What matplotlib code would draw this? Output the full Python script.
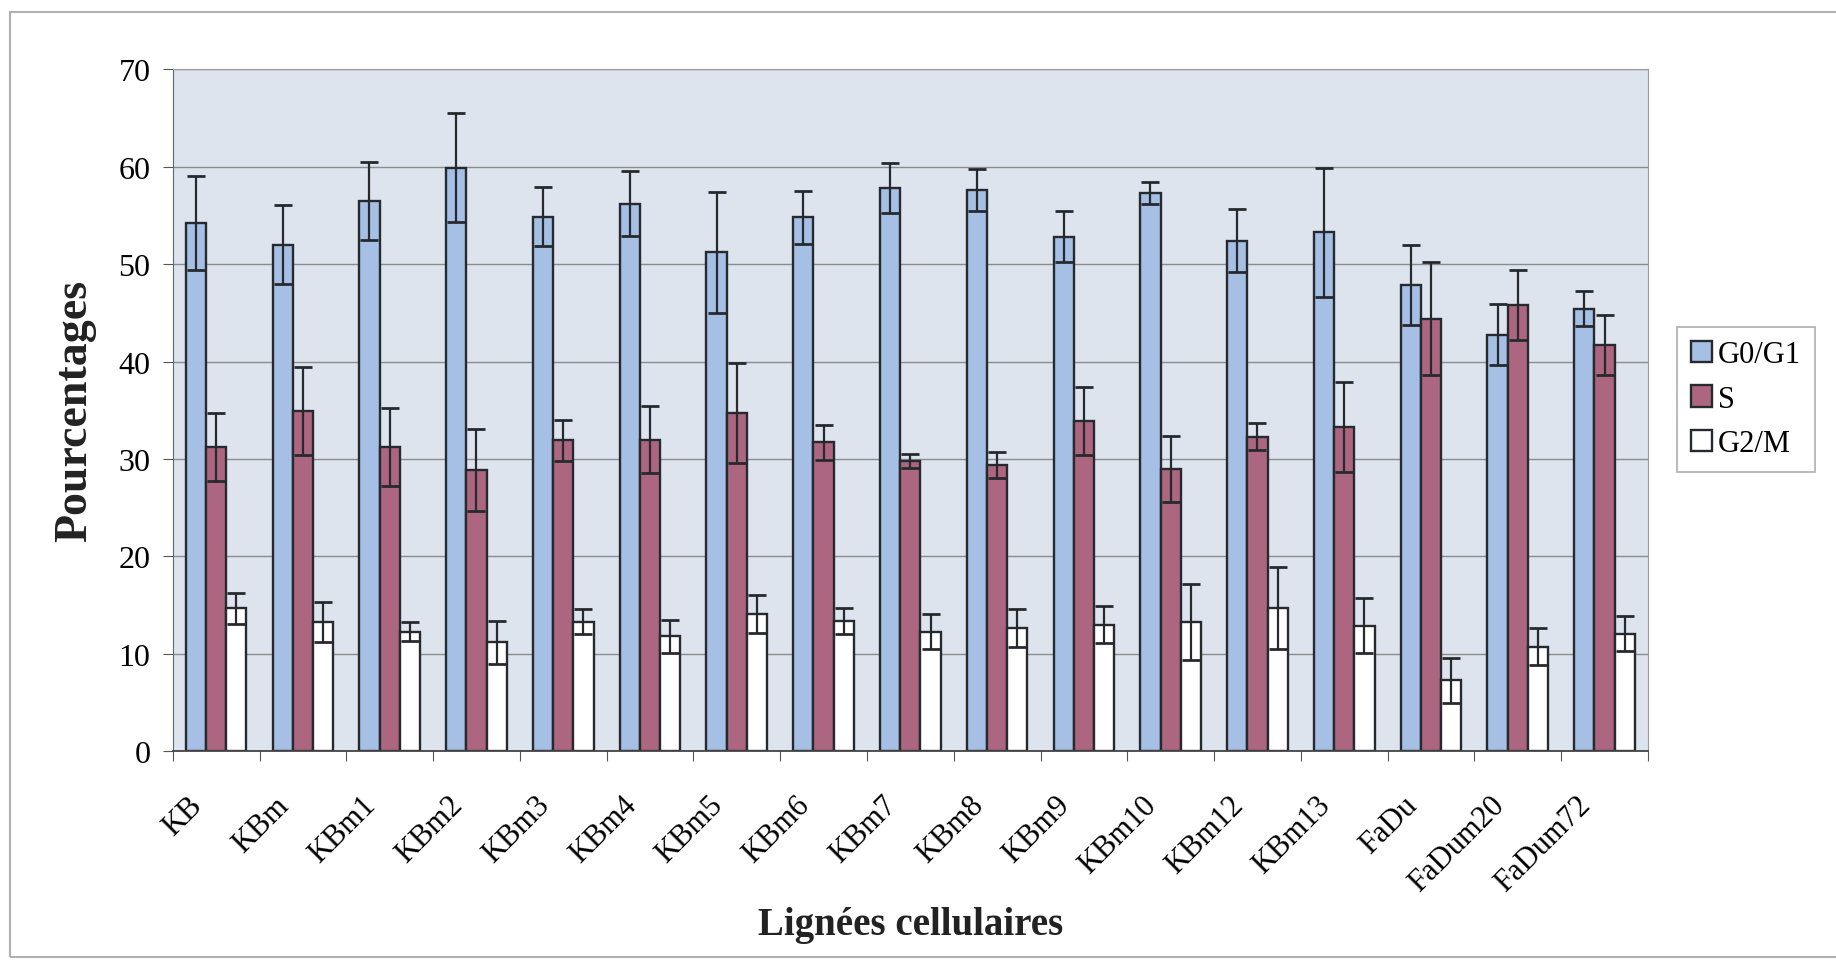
import numpy as np
import matplotlib
matplotlib.use("Agg")
import matplotlib.pyplot as plt
import matplotlib.transforms as mtransforms
from matplotlib.patches import Rectangle

plt.rcParams['font.family'] = ['Liberation Serif', 'DejaVu Serif']

# cell lines and cell-cycle phase percentages (mean, error)
cells = ['KB', 'KBm', 'KBm1', 'KBm2', 'KBm3', 'KBm4', 'KBm5', 'KBm6', 'KBm7',
         'KBm8', 'KBm9', 'KBm10', 'KBm12', 'KBm13', 'FaDu', 'FaDum20', 'FaDum72']
g0 = [54.2, 52.0, 56.5, 59.9, 54.85, 56.2, 51.2, 54.8, 57.8, 57.6, 52.8, 57.3, 52.4, 53.25, 47.8, 42.75, 45.4]
g0_err = [4.8, 4.1, 4.0, 5.6, 3.0, 3.3, 6.2, 2.7, 2.6, 2.15, 2.6, 1.15, 3.2, 6.65, 4.1, 3.1, 1.8]
s_phase = [31.25, 34.9, 31.25, 28.9, 31.9, 32.0, 34.7, 31.7, 29.8, 29.4, 33.9, 29.0, 32.3, 33.25, 44.4, 45.8, 41.7]
s_err = [3.5, 4.5, 4.0, 4.2, 2.1, 3.4, 5.1, 1.8, 0.7, 1.3, 3.5, 3.4, 1.4, 4.6, 5.8, 3.6, 3.05]
g2 = [14.7, 13.25, 12.3, 11.2, 13.3, 11.8, 14.1, 13.35, 12.3, 12.65, 13.0, 13.25, 14.7, 12.9, 7.3, 10.75, 12.1]
g2_err = [1.6, 2.05, 1.0, 2.2, 1.3, 1.7, 1.95, 1.35, 1.8, 1.95, 1.9, 3.9, 4.2, 2.8, 2.3, 1.9, 1.8]

series = [('G0/G1', g0, g0_err, '#a6bfe4'),
          ('S', s_phase, s_err, '#ad6680'),
          ('G2/M', g2, g2_err, '#ffffff')]

edge = '#262a2e'
fig = plt.figure(figsize=(18.36, 9.62), dpi=100)
ax = fig.add_axes([0.0941, 0.2178, 0.8035, 0.7094])
ax.set_facecolor('#dde4ee')

x = np.arange(len(cells))
w = 0.233
for k, (name, vals, errs, col) in enumerate(series):
    pos = x + (k - 1) * w
    ax.bar(pos, vals, w, color=col, edgecolor=edge, linewidth=1.7, label=name, zorder=2)
    ax.errorbar(pos, vals, yerr=errs, fmt='none', ecolor=edge, elinewidth=1.6,
                capsize=6.8, capthick=2.0, zorder=3)

ax.set_xlim(-0.5, len(cells) - 0.5)
ax.set_ylim(0, 70)
ax.set_yticks(range(0, 71, 10))
ax.yaxis.grid(True, color='#8c8c8c', linewidth=1.0, zorder=0)
ax.set_axisbelow(True)

# Excel-style: ticks between categories, labels at centres
ax.set_xticks(np.arange(-0.5, len(cells), 1.0))
ax.set_xticklabels([])
ax.set_xticks(x, minor=True)
ax.set_xticklabels(cells, minor=True, rotation=45, ha='right', fontsize=22)
ax.tick_params(axis='x', which='major', direction='out', length=7, color='#555555')
ax.tick_params(axis='x', which='minor', length=0, pad=28)
offset = mtransforms.ScaledTranslation(-8 / 100, 0, fig.dpi_scale_trans)
for lab in ax.get_xticklabels(minor=True):
    lab.set_transform(lab.get_transform() + offset)
ax.tick_params(axis='y', direction='out', length=7, color='#555555', labelsize=23, pad=9)

for side in ['top', 'right']:
    ax.spines[side].set_color('#9a9a9a')
ax.spines['left'].set_color('#666666')
ax.spines['bottom'].set_color('#444444')
ax.spines['bottom'].set_linewidth(1.3)

ax.set_ylabel('Pourcentages', fontsize=33, fontweight='bold', color='#222222')
ax.yaxis.set_label_coords(-0.052, 0.5)
ax.set_xlabel('Lignées cellulaires', fontsize=28, fontweight='bold', color='#222222')
ax.xaxis.set_label_coords(0.5, -0.226)

leg = ax.legend(loc='center left', bbox_to_anchor=(0.905, 0.584),
                bbox_transform=fig.transFigure, fontsize=22, frameon=True,
                fancybox=False, handlelength=0.7, handleheight=0.7,
                handletextpad=0.2, labelspacing=0.5, borderpad=0.45)
leg.get_frame().set_edgecolor('#9a9a9a')
leg.get_frame().set_linewidth(1.2)

# outer chart frame
fig.patches.append(Rectangle((10 / 1836, 4 / 962), 1.0, 945 / 962, transform=fig.transFigure,
                             fill=False, edgecolor='#b0b0b0', linewidth=1.5))

fig.savefig('out.png', dpi=100)
